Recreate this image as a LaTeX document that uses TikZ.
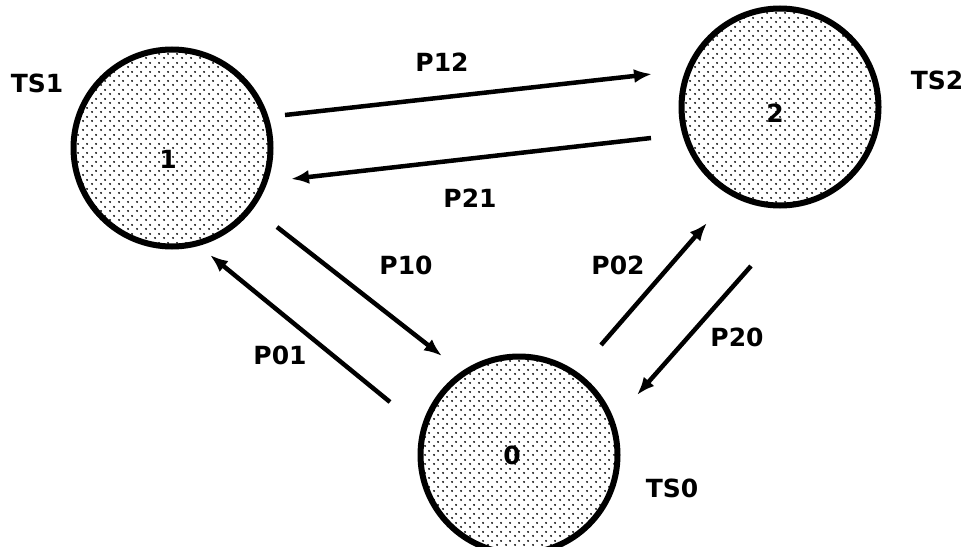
\documentclass[tikz,border=0pt]{standalone}
\usepackage{fontspec}
\setmainfont{DejaVu Sans}
\usetikzlibrary{arrows.meta,patterns.meta}
\tikzdeclarepattern{name=stipple,type=uncolored,bounding box={(0pt,0pt) and (9pt,9pt)},tile size={(9pt,9pt)},
  code={\fill (2.25pt,2.25pt) circle (1.15pt); \fill (6.75pt,6.75pt) circle (1.15pt);}}
\tikzset{
  statenode/.style={circle,draw=black,line width=6pt,pattern=stipple,pattern color=black,minimum size=197pt,inner sep=0pt},
  lbl/.style={font=\bfseries\fontsize{25}{25}\selectfont,inner sep=0pt},
  trans/.style={line width=4.5pt,-{Latex[length=18pt,width=14pt]}},
}
\begin{document}
\begin{tikzpicture}[x=1pt,y=-1pt]
\useasboundingbox (0,0) rectangle (968,546);
\clip (0,0) rectangle (968,546);
\fill[white] (0,0) rectangle (968,546);
\node[statenode] (c1) at (172,148) {};
\node[statenode] (c2) at (780,107) {};
\node[statenode] (c0) at (519,455) {};
\node[lbl] (n1) at (168,159) {1};
\node[lbl] (n2) at (775,113) {2};
\node[lbl] (n0) at (512,455) {0};

\node[lbl] (ts1) at (37,83) {TS1};
\node[lbl] (ts2) at (937,80) {TS2};
\node[lbl] (ts0) at (672,488) {TS0};

\coordinate (a12s) at (285,115); \coordinate (a12e) at (652,74);
\coordinate (a21s) at (651,138); \coordinate (a21e) at (291,179);
\coordinate (a10s) at (277,227); \coordinate (a10e) at (442,356);
\coordinate (a01s) at (390,402); \coordinate (a01e) at (210,255);
\coordinate (a02s) at (601,345); \coordinate (a02e) at (707,223);
\coordinate (a20s) at (751,266); \coordinate (a20e) at (637,395);

\draw[trans] (a12s) -- (a12e);
\draw[trans] (a21s) -- (a21e);
\draw[trans] (a10s) -- (a10e);
\draw[trans] (a01s) -- (a01e);
\draw[trans] (a02s) -- (a02e);
\draw[trans] (a20s) -- (a20e);

\node[lbl] (p12) at (442,62) {P12};
\node[lbl] (p21) at (470,198) {P21};
\node[lbl] (p10) at (406,265) {P10};
\node[lbl] (p01) at (280,355) {P01};
\node[lbl] (p02) at (618,265) {P02};
\node[lbl] (p20) at (737,337) {P20};
\end{tikzpicture}
\end{document}
